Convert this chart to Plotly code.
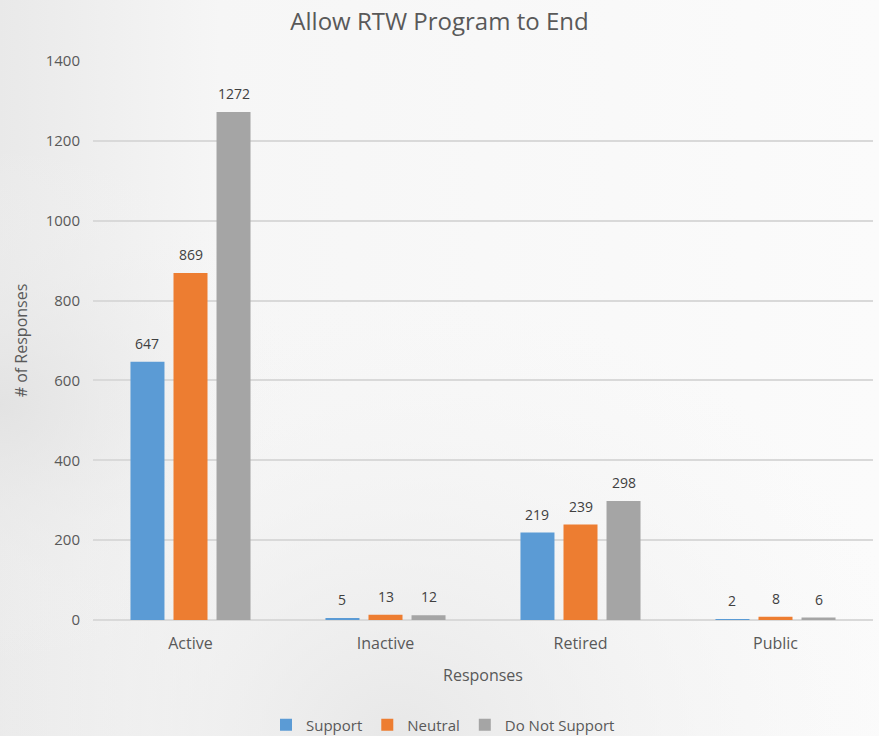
import base64
import plotly.graph_objects as go

categories = ["Active", "Inactive", "Retired", "Public"]
support = [647, 5, 219, 2]
neutral = [869, 13, 239, 8]
do_not_support = [1272, 12, 298, 6]
series_names = ["Support", "Neutral", "Do Not Support"]
colors = ["#5B9BD5", "#ED7D31", "#A5A5A5"]
y_ticks = [0, 200, 400, 600, 800, 1000, 1200, 1400]

font_family = "Open Sans, Noto Sans, sans-serif"
BARGAP = 0.338
BARGROUPGAP = 0.21

fig = go.Figure()
series = [support, neutral, do_not_support]
for name, vals, c in zip(series_names, series, colors):
    fig.add_trace(go.Bar(
        x=categories, y=vals, name=name, marker_color=c, marker_line_width=0,
    ))

# value labels above bars
slot = (1 - BARGAP) / len(series)
for k, vals in enumerate(series):
    for i, v in enumerate(vals):
        fig.add_annotation(
            x=i + (k - (len(series) - 1) / 2) * slot, y=v, xref="x", yref="y",
            text=str(v), showarrow=False, yanchor="bottom", yshift=7,
            font=dict(size=14, color="#404040", family=font_family),
        )

# soft textured background (subtle gray smudges like the reference)
svg = """<svg xmlns='http://www.w3.org/2000/svg' width='879' height='736'>
<defs>
<linearGradient id='g1' x1='0' y1='0' x2='1' y2='0'>
<stop offset='0' stop-color='#e9e9e9'/><stop offset='0.25' stop-color='#f6f6f6'/>
<stop offset='1' stop-color='#fbfbfb'/></linearGradient>
<radialGradient id='g2' cx='0.45' cy='1.0' r='0.6'>
<stop offset='0' stop-color='#e6e6e6' stop-opacity='0.9'/>
<stop offset='1' stop-color='#f5f5f5' stop-opacity='0'/></radialGradient>
<radialGradient id='g3' cx='0.0' cy='0.55' r='0.35'>
<stop offset='0' stop-color='#e2e2e2' stop-opacity='0.9'/>
<stop offset='1' stop-color='#f5f5f5' stop-opacity='0'/></radialGradient>
</defs>
<rect width='879' height='736' fill='url(#g1)'/>
<rect width='879' height='736' fill='url(#g2)'/>
<rect width='879' height='736' fill='url(#g3)'/>
</svg>"""
bg_uri = "data:image/svg+xml;base64," + base64.b64encode(svg.encode()).decode()
fig.add_layout_image(
    source=bg_uri, xref="paper", yref="paper", x=-93 / 780, y=1 + 61 / 559,
    sizex=879 / 780, sizey=736 / 559, xanchor="left", yanchor="top",
    sizing="stretch", layer="below",
)

fig.update_layout(
    width=879, height=736,
    margin=dict(l=93, r=6, t=61, b=116),
    paper_bgcolor="#f6f6f6", plot_bgcolor="rgba(0,0,0,0)",
    title=dict(text="Allow RTW Program to End", x=0.5, xanchor="center", y=0.97, yanchor="middle",
               font=dict(size=24, color="#595959", family=font_family)),
    barmode="group", bargap=BARGAP, bargroupgap=BARGROUPGAP,
    font=dict(family=font_family, color="#595959", size=14),
    legend=dict(orientation="h", xref="container", x=443 / 879, xanchor="center",
                yref="container", y=11 / 736, yanchor="middle",
                font=dict(size=15, color="#595959"), bgcolor="rgba(0,0,0,0)",
                itemwidth=30, tracegroupgap=0),
)
fig.update_xaxes(
    showgrid=False, showline=False, ticks="", tickfont=dict(size=16, color="#595959"),
    ticklabelstandoff=12,
    title=dict(text="Responses", font=dict(size=16, color="#595959"), standoff=16),
)
fig.update_yaxes(
    range=[0, 1400], tickvals=y_ticks, showgrid=True, gridcolor="#d9d9d9", gridwidth=1.5,
    zeroline=True, zerolinecolor="#d9d9d9", zerolinewidth=1.5, ticks="",
    tickfont=dict(size=15, color="#595959"), ticklabelstandoff=12,
    title=dict(text="# of Responses", font=dict(size=16, color="#595959"), standoff=14),
)
fig.write_html("out.html", config={"displayModeBar": False},
               post_script="document.body.style.margin='0';")
